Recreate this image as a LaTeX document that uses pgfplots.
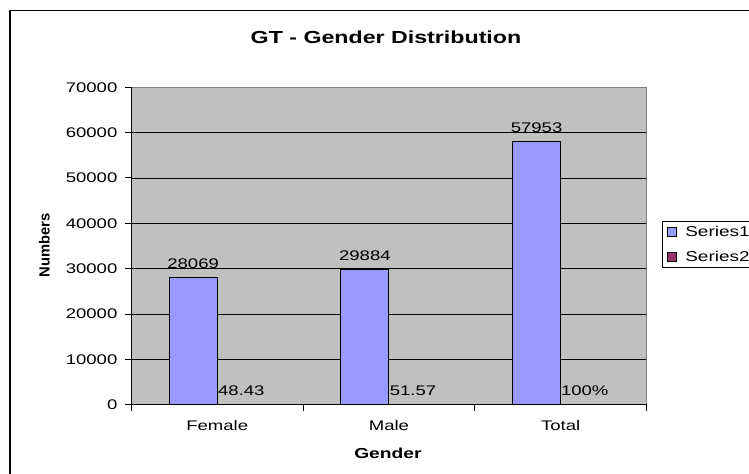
\documentclass[border=0pt]{standalone}
\usepackage{fontspec}
\setmainfont{Liberation Sans}[FakeStretch=1.33]
\newfontfamily\plainsans{Liberation Sans}
\usepackage{pgfplots}
\pgfplotsset{compat=1.18}
\definecolor{barblue}{HTML}{9999FF}
\definecolor{barplum}{HTML}{993366}
\definecolor{plotgray}{HTML}{C0C0C0}

\begin{document}
\begin{tikzpicture}
\useasboundingbox (0bp,0bp) rectangle (749bp,474bp);
% outer chart border (runs off the right and bottom edges)
\draw[line width=1.3bp] (10bp,463.7bp) rectangle (820bp,-60bp);
\node[font=\bfseries\fontsize{17.5}{20}\selectfont] at (386bp,437bp) {GT - Gender Distribution};

\begin{axis}[
    at={(131.4bp,69.3bp)}, anchor=south west,
    scale only axis, width=515.1bp, height=317.4bp,
    ybar=0pt, bar width=48.2bp,
    xmin=-0.5, xmax=2.5, ymin=0, ymax=70000,
    xtick={-0.5,0.5,1.5,2.5},
    xticklabels={Female,Male,Total},
    x tick label as interval,
    ytick={0,10000,...,70000},
    scaled y ticks=false,
    /pgf/number format/1000 sep={},
    /pgf/number format/assume math mode=true,
    xtick pos=bottom, ytick pos=left,
    tick align=outside,
    major tick length=6bp,
    tick style={black, line width=1bp},
    tick label style={font=\fontsize{14}{16}\selectfont},
    yticklabel style={xshift=-4.5bp},
    xticklabel style={yshift=-6bp},
    axis line style={draw=gray, line width=1bp},
    axis background/.style={fill=plotgray},
    ymajorgrids,
    major grid style={black, line width=0.9bp},
    xlabel={Gender},
    ylabel={Numbers},
    xlabel style={font=\bfseries\fontsize{14.5}{17}\selectfont, at={(axis description cs:0.498,-0.152)}, anchor=center},
    ylabel style={font=\plainsans\bfseries\fontsize{14.8}{17}\selectfont, at={(axis description cs:-0.169,0.503)}, anchor=center},
    every node near coord/.append style={font=\fontsize{14}{16}\selectfont, yshift=5bp},
    legend style={at={(1.030,0.505)}, anchor=west, draw=black, line width=1bp, fill=white,
      font=\fontsize{14.3}{16}\selectfont, row sep=9bp, inner xsep=5bp, inner ysep=3bp},
    legend image code/.code={\draw[#1, line width=0.8bp] (0bp,-4.5bp) rectangle (9bp,4.5bp); \path (15bp,0bp);},
    legend cell align=left,
    clip=false,
  ]
  \addplot[fill=barblue, draw=black, line width=1bp, nodes near coords, point meta=explicit symbolic]
    coordinates {(0,28069) [28069] (1,29884) [29884] (2,57953) [57953]};
  \addlegendentry{Series1}
  \addplot[fill=barplum, draw=black, line width=1bp, nodes near coords, point meta=explicit symbolic]
    coordinates {(0,48.43) [48.43] (1,51.57) [51.57] (2,100) [100\%]};
  \addlegendentry{Series2}
  % black left and bottom axis lines
  \draw[black, line width=1.3bp] (rel axis cs:0,1) -- (rel axis cs:0,0) -- (rel axis cs:1,0);
\end{axis}
\end{tikzpicture}
\end{document}
